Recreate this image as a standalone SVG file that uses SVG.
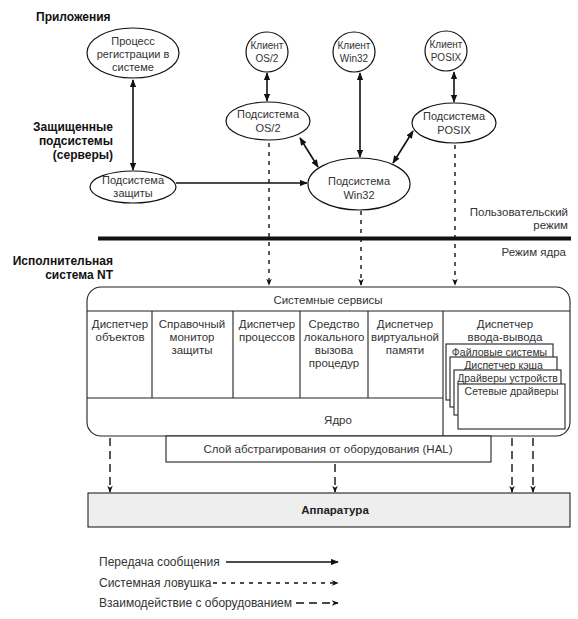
<svg xmlns="http://www.w3.org/2000/svg" width="578" height="619" viewBox="0 0 578 619">
<defs>
<marker id="ah" viewBox="0 0 10 8" refX="9" refY="4" markerWidth="8" markerHeight="6.4" markerUnits="userSpaceOnUse" orient="auto-start-reverse">
<path d="M0,0 L10,4 L0,8 z" fill="#111"/>
</marker>
<marker id="ahs" viewBox="0 0 10 8" refX="9" refY="4" markerWidth="7" markerHeight="5.6" markerUnits="userSpaceOnUse" orient="auto">
<path d="M0,0 L10,4 L0,8 L3,4 z" fill="#111"/>
</marker>
</defs>
<style>
.h{font-family:"Liberation Sans",Arial,sans-serif;font-weight:bold;font-size:12px;fill:#111}
.t{font-family:"Liberation Sans",Arial,sans-serif;font-size:11.5px;fill:#333}
.e{font-size:11px}
.k{font-size:10px}
.s{font-size:10.5px}
.l{font-size:12px}
.c{text-anchor:middle}
.r{text-anchor:end}
.n{fill:#fff;stroke:#111;stroke-width:1.2}
.b{fill:#fff;stroke:#222;stroke-width:1.1}
.msg{stroke:#111;stroke-width:1.6;fill:none}
.trap{stroke:#111;stroke-width:1.4;fill:none;stroke-dasharray:4 5}
.hw{stroke:#111;stroke-width:1.4;fill:none;stroke-dasharray:8 5}
</style>
<rect width="578" height="619" fill="#fff"/>

<g id="labels">
<text class="h" x="36" y="21">Приложения</text>
<text class="h r" x="113" y="131">Защищенные</text>
<text class="h r" x="113" y="145">подсистемы</text>
<text class="h r" x="113" y="159">(серверы)</text>
<text class="h r" x="113" y="265">Исполнительная</text>
<text class="h r" x="113" y="279">система NT</text>
<text class="t r" x="568" y="216">Пользовательский</text>
<text class="t r" x="568" y="229">режим</text>
<text class="t r" x="566" y="256">Режим ядра</text>
</g>

<line x1="98" y1="238.5" x2="571" y2="238.5" stroke="#111" stroke-width="4"/>

<g id="connectors">
<line class="msg" x1="133" y1="80" x2="133" y2="170" marker-start="url(#ah)" marker-end="url(#ah)"/>
<line class="msg" x1="267" y1="73" x2="267" y2="101" marker-start="url(#ah)" marker-end="url(#ah)"/>
<line class="msg" x1="360" y1="73" x2="360" y2="157" marker-start="url(#ah)" marker-end="url(#ah)"/>
<line class="msg" x1="454" y1="72" x2="454" y2="102" marker-start="url(#ah)" marker-end="url(#ah)"/>
<line class="msg" x1="300" y1="138" x2="318" y2="167" marker-start="url(#ah)" marker-end="url(#ah)"/>
<line class="msg" x1="413" y1="131" x2="393" y2="163" marker-start="url(#ah)" marker-end="url(#ah)"/>
<line class="msg" x1="176" y1="183" x2="307" y2="183" marker-end="url(#ah)"/>
<line class="trap" x1="269" y1="143" x2="269" y2="285" marker-end="url(#ahs)"/>
<line class="trap" x1="361" y1="211" x2="361" y2="285" marker-end="url(#ahs)"/>
<line class="trap" x1="455" y1="145" x2="455" y2="285" marker-end="url(#ahs)"/>
<line class="hw" x1="110" y1="438" x2="110" y2="492" marker-end="url(#ahs)"/>
<line class="hw" x1="335" y1="464" x2="335" y2="492" marker-end="url(#ahs)"/>
<line class="hw" x1="512" y1="438" x2="512" y2="492" marker-end="url(#ahs)"/>
<line class="hw" x1="533" y1="438" x2="533" y2="492" marker-end="url(#ahs)"/>
</g>

<g id="logon">
<ellipse class="n" cx="133" cy="53" rx="46" ry="25"/>
<text class="t e c" x="133" y="45">Процесс</text>
<text class="t e c" x="133" y="58">регистрации в</text>
<text class="t e c" x="133" y="71">системе</text>
</g>
<g id="client-os2">
<ellipse class="n" cx="267" cy="52" rx="21" ry="20"/>
<text class="t k c" x="267" y="49">Клиент</text>
<text class="t k c" x="267" y="62">OS/2</text>
</g>
<g id="client-win32">
<ellipse class="n" cx="354" cy="52" rx="21" ry="20"/>
<text class="t k c" x="354" y="49">Клиент</text>
<text class="t k c" x="354" y="62">Win32</text>
</g>
<g id="client-posix">
<ellipse class="n" cx="446" cy="51" rx="21" ry="20"/>
<text class="t k c" x="446" y="48">Клиент</text>
<text class="t k c" x="446" y="61">POSIX</text>
</g>
<g id="sub-os2">
<ellipse class="n" cx="268" cy="121" rx="42" ry="19"/>
<text class="t e c" x="268" y="118">Подсистема</text>
<text class="t e c" x="268" y="132">OS/2</text>
</g>
<g id="sub-posix">
<ellipse class="n" cx="454" cy="123" rx="42" ry="20"/>
<text class="t e c" x="454" y="120">Подсистема</text>
<text class="t e c" x="454" y="134">POSIX</text>
</g>
<g id="sub-win32">
<ellipse class="n" cx="359" cy="184" rx="51" ry="26"/>
<text class="t e c" x="359" y="185">Подсистема</text>
<text class="t e c" x="359" y="199">Win32</text>
</g>
<g id="sub-security">
<ellipse class="n" cx="133" cy="187" rx="43" ry="16"/>
<text class="t e c" x="133" y="184">Подсистема</text>
<text class="t e c" x="133" y="197">защиты</text>
</g>

<g id="executive">
<rect class="b" x="87" y="287" width="483" height="149" rx="14"/>
<line class="b" x1="87" y1="311" x2="570" y2="311"/>
<line class="b" x1="152" y1="311" x2="152" y2="398"/>
<line class="b" x1="233" y1="311" x2="233" y2="398"/>
<line class="b" x1="300" y1="311" x2="300" y2="398"/>
<line class="b" x1="368" y1="311" x2="368" y2="398"/>
<line class="b" x1="443" y1="311" x2="443" y2="436"/>
<line class="b" x1="87" y1="398" x2="443" y2="398"/>
<text class="t c" x="328" y="304">Системные сервисы</text>
<text class="t c" x="120" y="328">Диспетчер</text>
<text class="t c" x="120" y="341">объектов</text>
<text class="t c" x="192" y="328">Справочный</text>
<text class="t c" x="192" y="341">монитор</text>
<text class="t c" x="192" y="354">защиты</text>
<text class="t c" x="267" y="328">Диспетчер</text>
<text class="t c" x="267" y="341">процессов</text>
<text class="t c" x="334" y="328">Средство</text>
<text class="t c" x="334" y="341">локального</text>
<text class="t c" x="334" y="354">вызова</text>
<text class="t c" x="334" y="367">процедур</text>
<text class="t c" x="405" y="328">Диспетчер</text>
<text class="t c" x="405" y="341">виртуальной</text>
<text class="t c" x="405" y="354">памяти</text>
<text class="t c" x="505" y="328">Диспетчер</text>
<text class="t c" x="505" y="341">ввода-вывода</text>
<text class="t c" x="338" y="424">Ядро</text>
</g>
<g id="io-stack">
<rect class="b" x="446" y="344" width="107" height="56"/>
<text class="t s c" x="499.5" y="356">Файловые системы</text>
<rect class="b" x="450" y="357" width="107" height="50"/>
<text class="t s c" x="503.5" y="369">Диспетчер кэша</text>
<rect class="b" x="454" y="370" width="107" height="45"/>
<text class="t s c" x="507.5" y="382">Драйверы устройств</text>
<rect class="b" x="458" y="384" width="107" height="45"/>
<text class="t s c" x="511.5" y="395">Сетевые драйверы</text>
</g>
<g id="hal">
<rect class="b" x="166" y="436" width="325" height="26"/>
<text class="t c" x="328" y="453">Слой абстрагирования от оборудования (HAL)</text>
</g>
<g id="hardware">
<rect x="88" y="493" width="482" height="34" fill="#eeeeee" stroke="#222" stroke-width="1.1"/>
<text class="t c" x="335" y="514" style="font-weight:bold;fill:#222">Аппаратура</text>
</g>

<g id="legend">
<text class="t l" x="99" y="566">Передача сообщения</text>
<line class="msg" x1="226" y1="562" x2="338" y2="562" marker-end="url(#ah)"/>
<text class="t l" x="99" y="587">Системная ловушка</text>
<line class="trap" x1="213" y1="583" x2="338" y2="583" marker-end="url(#ahs)"/>
<text class="t l" x="99" y="607">Взаимодействие с оборудованием</text>
<line class="hw" x1="296" y1="603" x2="338" y2="603" marker-end="url(#ahs)"/>
</g>
</svg>
